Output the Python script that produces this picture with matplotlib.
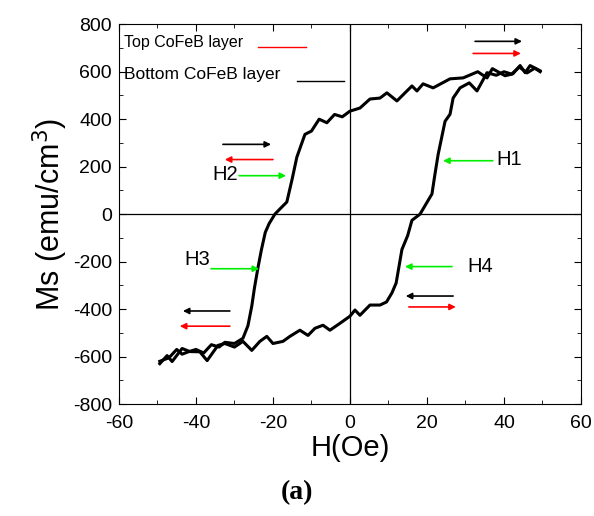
import numpy as np
import matplotlib.pyplot as plt
from matplotlib.ticker import MultipleLocator

# descending branch (H from +50 down to -50)
h_down = [49.4, 46.8, 45.5, 44.2, 42.3, 40.3, 37.0, 35.6, 33.2, 29.4, 26.0, 21.6, 19.0, 17.4, 16.1,
          12.2, 9.6, 7.8, 5.2, 2.6, 0.0, -2.0, -4.0, -6.0, -8.0, -10.0, -11.7, -13.8, -15.0, -16.4,
          -18.0, -19.5, -21.0, -22.0, -23.0, -23.9, -24.8, -25.5, -26.5, -27.8, -30.0, -32.5, -34.0,
          -36.0, -38.0, -40.0, -42.0, -43.6, -45.0, -47.0, -49.4]
m_down = [604, 626, 596, 626, 591, 583, 613, 574, 600, 574, 570, 532, 549, 519, 540,
          477, 511, 489, 485, 447, 434, 410, 420, 385, 400, 350, 336, 240, 149, 51,
          25, 0, -40, -77, -150, -226, -310, -387, -470, -523, -545, -540, -560,
          -550, -585, -570, -580, -590, -570, -605, -620]

# ascending branch (H from -50 up to +50)
h_up = [-49.4, -47.5, -46.2, -43.6, -41.6, -39.0, -37.1, -34.3, -32.5, -30.0, -27.8, -25.5, -23.4,
        -21.6, -20.0, -17.4, -15.6, -13.0, -10.9, -9.1, -7.0, -5.2, -2.6, 0.0, 1.3, 2.6, 5.2,
        7.8, 9.5, 10.9, 12.0, 13.5, 15.0, 16.1, 18.2, 21.3, 22.0, 22.9, 24.7, 26.0, 26.8, 28.6,
        31.0, 33.0, 35.6, 38.0, 40.0, 42.0, 44.0, 46.0, 48.0, 49.4]
m_up = [-630, -596, -621, -566, -579, -580, -617, -553, -545, -560, -536, -574, -536,
        -515, -545, -536, -515, -489, -511, -481, -468, -489, -460, -430, -404, -426, -383,
        -383, -370, -332, -290, -149, -90, -26, 0, 85, 160, 251, 391, 421, 489, 532,
        553, 519, 596, 585, 600, 590, 620, 595, 615, 600]

# annotation arrows: (x_start, x_end, y, colour)
arrows = [(32.5, 44.7, 728, 'black'), (32.0, 44.4, 677, 'red'),
          (-33.0, -20.5, 294, 'black'), (-20.0, -32.5, 230, 'red'),
          (-28.8, -16.6, 162, '#00ee00'), (-36.1, -23.6, -230, '#00ee00'),
          (-31.2, -43.4, -408, 'black'), (-31.2, -44.2, -472, 'red'),
          (37.1, 24.2, 225, '#00ee00'), (26.5, 14.3, -221, '#00ee00'),
          (26.8, 14.5, -345, 'black'), (15.3, 27.5, -391, 'red')]
labels = [('H1', 38.0, 230, 'left'), ('H2', -29.2, 168, 'right'),
          ('H3', -36.2, -190, 'right'), ('H4', 30.6, -221, 'left')]

plt.rcParams['font.family'] = ['Liberation Sans', 'DejaVu Sans']
plt.rcParams['axes.unicode_minus'] = False

fig = plt.figure(figsize=(5.94, 5.16), dpi=100)
ax = fig.add_axes([0.2003, 0.217, 0.7777, 0.736])

ax.plot(h_down, m_down, color='black', lw=2.2)
ax.plot(h_up, m_up, color='black', lw=2.2)
ax.axhline(0, color='black', lw=0.9)
ax.axvline(0, color='black', lw=0.9)

for x0, x1, y, c in arrows:
    ax.annotate('', xy=(x1, y), xytext=(x0, y),
                arrowprops=dict(arrowstyle='-|>', color=c, lw=1.2, mutation_scale=9,
                                shrinkA=0, shrinkB=0))
for txt, x, y, ha in labels:
    ax.text(x, y, txt, fontsize=14.5, ha=ha, va='center')

# hand-drawn legend
ax.text(-58.6, 723, 'Top CoFeB layer', fontsize=11.5, va='center')
ax.plot([-23.9, -11.4], [706, 706], color='red', lw=1)
ax.text(-58.6, 590, 'Bottom CoFeB layer', fontsize=12.5, va='center')
ax.plot([-13.8, -1.6], [562, 562], color='black', lw=1)

ax.set_xlim(-60, 60)
ax.set_ylim(-800, 800)
ax.xaxis.set_major_locator(MultipleLocator(20))
ax.xaxis.set_minor_locator(MultipleLocator(10))
ax.yaxis.set_major_locator(MultipleLocator(200))
ax.yaxis.set_minor_locator(MultipleLocator(100))
ax.tick_params(which='both', direction='in', top=True, right=True, labelsize=14)
ax.tick_params(which='major', length=5)
ax.tick_params(which='minor', length=3)
ax.tick_params(axis='x', pad=8)
ax.tick_params(axis='y', pad=5)
ax.set_xlabel('H(Oe)', fontsize=21, labelpad=1)
ax.set_ylabel('Ms (emu/cm$^3$)', fontsize=22, labelpad=2)

fig.text(0.5, 0.045, '(a)', fontsize=20, fontweight='bold', ha='center', va='center',
         family=['Liberation Serif', 'DejaVu Serif'])

fig.savefig('out.png', dpi=100)
